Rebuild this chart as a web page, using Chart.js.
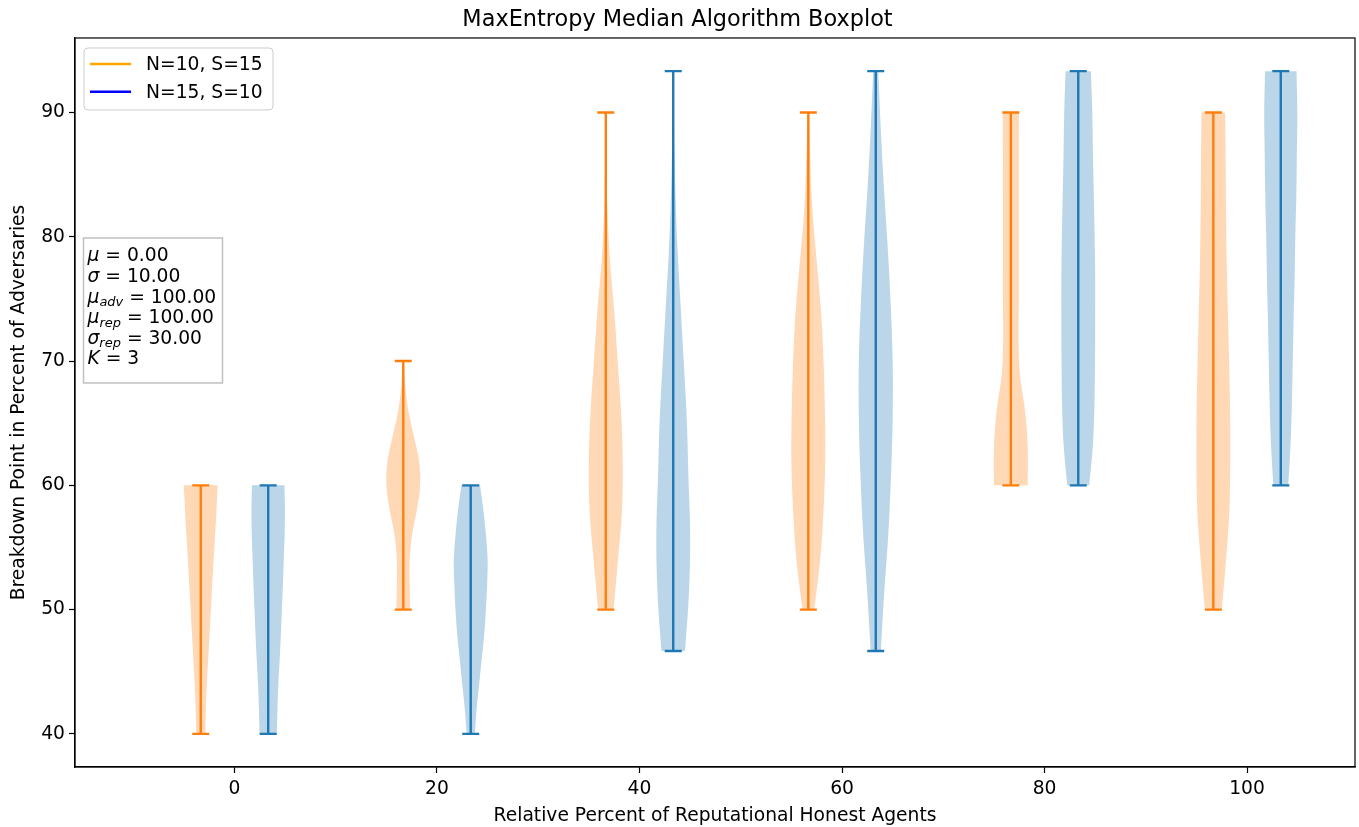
<!DOCTYPE html>
<html>
<head>
<meta charset="utf-8">
<script src="https://cdn.jsdelivr.net/npm/chart.js@4/dist/chart.umd.min.js"></script>
<style>
  html, body { margin: 0; padding: 0; background: #fff; }
</style>
</head>
<body>
<canvas id="violinChart" width="1359" height="827"></canvas>
<script>
// ===== data =====
const groups = [0, 20, 40, 60, 80, 100];
const seriesLabels = ['N=10, S=15', 'N=15, S=10'];
const xTicks = [0, 20, 40, 60, 80, 100];
const yTicks = [40, 50, 60, 70, 80, 90];

// min / max of each violin, one entry per group
const orangeMin = [40, 50, 50, 50, 60, 50];
const orangeMax = [60, 70, 90, 90, 90, 90];
const blueMin = [40, 40, 46.67, 46.67, 60, 60];
const blueMax = [60, 60, 93.33, 93.33, 93.33, 93.33];

// relative density of each violin, 11 samples from its min (first) up to its max (last)
const orangeDensity = [
  [0.27, 0.30, 0.36, 0.44, 0.52, 0.60, 0.68, 0.76, 0.85, 0.93, 1.00],
  [0.41, 0.38, 0.38, 0.52, 0.80, 1.00, 0.93, 0.62, 0.30, 0.12, 0.03],
  [0.46, 0.72, 0.96, 1.00, 0.90, 0.70, 0.50, 0.25, 0.10, 0.04, 0.02],
  [0.35, 0.70, 0.90, 1.00, 0.98, 0.90, 0.75, 0.50, 0.25, 0.12, 0.05],
  [1.00, 1.00, 0.84, 0.53, 0.45, 0.47, 0.47, 0.47, 0.47, 0.47, 0.48],
  [0.50, 0.75, 0.95, 1.00, 0.99, 0.93, 0.86, 0.79, 0.75, 0.73, 0.70]
];
const blueDensity = [
  [0.51, 0.55, 0.60, 0.68, 0.75, 0.81, 0.87, 0.92, 0.97, 0.99, 0.96],
  [0.24, 0.35, 0.50, 0.65, 0.80, 0.90, 0.97, 1.00, 0.90, 0.75, 0.55],
  [0.70, 0.93, 1.00, 0.90, 0.80, 0.62, 0.43, 0.24, 0.12, 0.05, 0.02],
  [0.30, 0.50, 0.74, 0.90, 1.00, 1.00, 0.88, 0.70, 0.48, 0.30, 0.15],
  [0.65, 0.87, 0.96, 0.99, 1.00, 1.00, 0.97, 0.92, 0.87, 0.83, 0.75],
  [0.44, 0.58, 0.66, 0.71, 0.76, 0.82, 0.86, 0.92, 0.95, 0.98, 0.93]
];

// parameter box text
const paramLines = [
  { sym: 'μ', sub: '', val: '0.00' },
  { sym: 'σ', sub: '', val: '10.00' },
  { sym: 'μ', sub: 'adv', val: '100.00' },
  { sym: 'μ', sub: 'rep', val: '100.00' },
  { sym: 'σ', sub: 'rep', val: '30.00' },
  { sym: 'K', sub: '', val: '3' }
];

// ===== styling =====
const FONT = 'DejaVu Sans';
const SMALL = 18.7;
const GROUP_OFFSET = 3.33;   // violins sit left/right of each group position
const VIOLIN_HALF = 1.67;    // half width of the widest part, x units
const CAP_HALF = 0.84;
const ORANGE = '#ff7f0e';
const BLUE = '#1f77b4';
const legendColors = ['orange', 'blue'];

function violinPoints(center, lo, hi, dens) {
    const n = dens.length;
    const step = (hi - lo) / (n - 1);
    const right = dens.map((d, i) => ({ x: center + d * VIOLIN_HALF, y: lo + i * step }));
    const left = dens.map((d, i) => ({ x: center - d * VIOLIN_HALF, y: lo + i * step })).reverse();
    // repeat end samples so top and bottom stay flat
    return [right[0], ...right, right[n - 1], left[0], ...left, left[n - 1]];
}

function whiskerPoints(center, lo, hi) {
    return [
        { x: center - CAP_HALF, y: lo }, { x: center + CAP_HALF, y: lo }, { x: center, y: null },
        { x: center, y: lo }, { x: center, y: hi }, { x: center, y: null },
        { x: center - CAP_HALF, y: hi }, { x: center + CAP_HALF, y: hi }
    ];
}

const datasets = [];
groups.forEach((g, i) => {
    datasets.push({
        data: whiskerPoints(g - GROUP_OFFSET, orangeMin[i], orangeMax[i]),
        borderColor: ORANGE, borderWidth: 2.4, pointRadius: 0, tension: 0, order: 0, fill: false
    });
    datasets.push({
        data: whiskerPoints(g + GROUP_OFFSET, blueMin[i], blueMax[i]),
        borderColor: BLUE, borderWidth: 2.4, pointRadius: 0, tension: 0, order: 0, fill: false
    });
});
groups.forEach((g, i) => {
    datasets.push({
        data: violinPoints(g - GROUP_OFFSET, orangeMin[i], orangeMax[i], orangeDensity[i]),
        borderWidth: 0, borderColor: 'rgba(0,0,0,0)', backgroundColor: 'rgba(255,127,14,0.3)',
        pointRadius: 0, tension: 0.35, fill: 'shape', order: 1
    });
    datasets.push({
        data: violinPoints(g + GROUP_OFFSET, blueMin[i], blueMax[i], blueDensity[i]),
        borderWidth: 0, borderColor: 'rgba(0,0,0,0)', backgroundColor: 'rgba(31,119,180,0.3)',
        pointRadius: 0, tension: 0.35, fill: 'shape', order: 1
    });
});

// top and right spines
const framePlugin = {
    id: 'frame',
    afterDatasetsDraw(chart) {
        const { ctx, chartArea: a } = chart;
        ctx.save();
        ctx.strokeStyle = '#000';
        ctx.lineWidth = 1.2;
        ctx.strokeRect(a.left, a.top, a.right - a.left, a.bottom - a.top);
        ctx.restore();
    }
};

// legend box and parameter box inside the axes
const boxesPlugin = {
    id: 'boxes',
    afterDraw(chart) {
        const { ctx, chartArea: a } = chart;
        ctx.save();

        // legend
        const lx = a.left + 9, ly = a.top + 10, lw = 189, lh = 62;
        ctx.beginPath();
        ctx.roundRect(lx, ly, lw, lh, 4);
        ctx.fillStyle = 'rgba(255,255,255,0.8)';
        ctx.fill();
        ctx.strokeStyle = '#cccccc';
        ctx.lineWidth = 1;
        ctx.stroke();
        ctx.font = SMALL + 'px "' + FONT + '"';
        ctx.textBaseline = 'middle';
        ctx.fillStyle = '#000';
        seriesLabels.forEach((label, i) => {
            const y = ly + 16 + i * 27.7;
            ctx.strokeStyle = legendColors[i];
            ctx.lineWidth = 2.4;
            ctx.beginPath();
            ctx.moveTo(lx + 6, y);
            ctx.lineTo(lx + 47, y);
            ctx.stroke();
            ctx.fillText(label, lx + 62, y + 1);
        });

        // parameter box
        const bx = a.left + 8.5, by = a.top + 200, bw = 139, bh = 145;
        ctx.fillStyle = 'rgba(255,255,255,0.5)';
        ctx.fillRect(bx, by, bw, bh);
        ctx.strokeStyle = '#c0c0c0';
        ctx.lineWidth = 1.5;
        ctx.strokeRect(bx, by, bw, bh);
        ctx.fillStyle = '#000';
        paramLines.forEach((p, i) => {
            const y = by + 18.5 + i * 20.6;
            let x = bx + 4;
            ctx.font = 'italic ' + SMALL + 'px "' + FONT + '"';
            ctx.fillText(p.sym, x, y);
            x += ctx.measureText(p.sym).width;
            if (p.sub) {
                ctx.font = 'italic 13px "' + FONT + '"';
                ctx.fillText(p.sub, x, y + 5);
                x += ctx.measureText(p.sub).width;
            }
            ctx.font = SMALL + 'px "' + FONT + '"';
            ctx.fillText(' = ' + p.val, x, y);
        });
        ctx.restore();
    }
};

new Chart(document.getElementById('violinChart'), {
    type: 'line',
    data: { datasets },
    plugins: [framePlugin, boxesPlugin],
    options: {
        responsive: false,
        animation: false,
        events: [],
        layout: { padding: { left: 0, right: 4, top: 0, bottom: 0 } },
        plugins: {
            legend: { display: false },
            tooltip: { enabled: false },
            title: {
                display: true,
                text: 'MaxEntropy Median Algorithm Boxplot',
                color: '#000',
                font: { family: FONT, size: 22.4, weight: 'normal', lineHeight: 1.2 },
                padding: { top: 7, bottom: 4.1 }
            }
        },
        scales: {
            x: {
                type: 'linear',
                min: -15.75,
                max: 110.66,
                afterBuildTicks: s => { s.ticks = xTicks.map(v => ({ value: v })); },
                afterFit: s => { s.height = 60; },
                grid: { drawOnChartArea: false, drawTicks: true, tickLength: 6, tickColor: '#000', tickWidth: 1.2 },
                border: { display: true, color: '#000', width: 1.2 },
                ticks: { color: '#000', font: { family: FONT, size: SMALL }, padding: 5, maxRotation: 0 },
                title: {
                    display: true,
                    text: 'Relative Percent of Reputational Honest Agents',
                    color: '#000',
                    font: { family: FONT, size: SMALL, lineHeight: 1.2 },
                    padding: { top: 0, bottom: 0 }
                }
            },
            y: {
                type: 'linear',
                min: 37.333,
                max: 96,
                afterBuildTicks: s => { s.ticks = yTicks.map(v => ({ value: v })); },
                afterFit: s => { s.width = 75; },
                grid: { drawOnChartArea: false, drawTicks: true, tickLength: 6, tickColor: '#000', tickWidth: 1.2 },
                border: { display: true, color: '#000', width: 1.2 },
                ticks: { color: '#000', font: { family: FONT, size: SMALL }, padding: 4 },
                title: {
                    display: true,
                    text: 'Breakdown Point in Percent of Adversaries',
                    color: '#000',
                    font: { family: FONT, size: SMALL, lineHeight: 1.2 },
                    padding: { top: 8, bottom: 0 }
                }
            }
        }
    }
});
</script>
</body>
</html>
